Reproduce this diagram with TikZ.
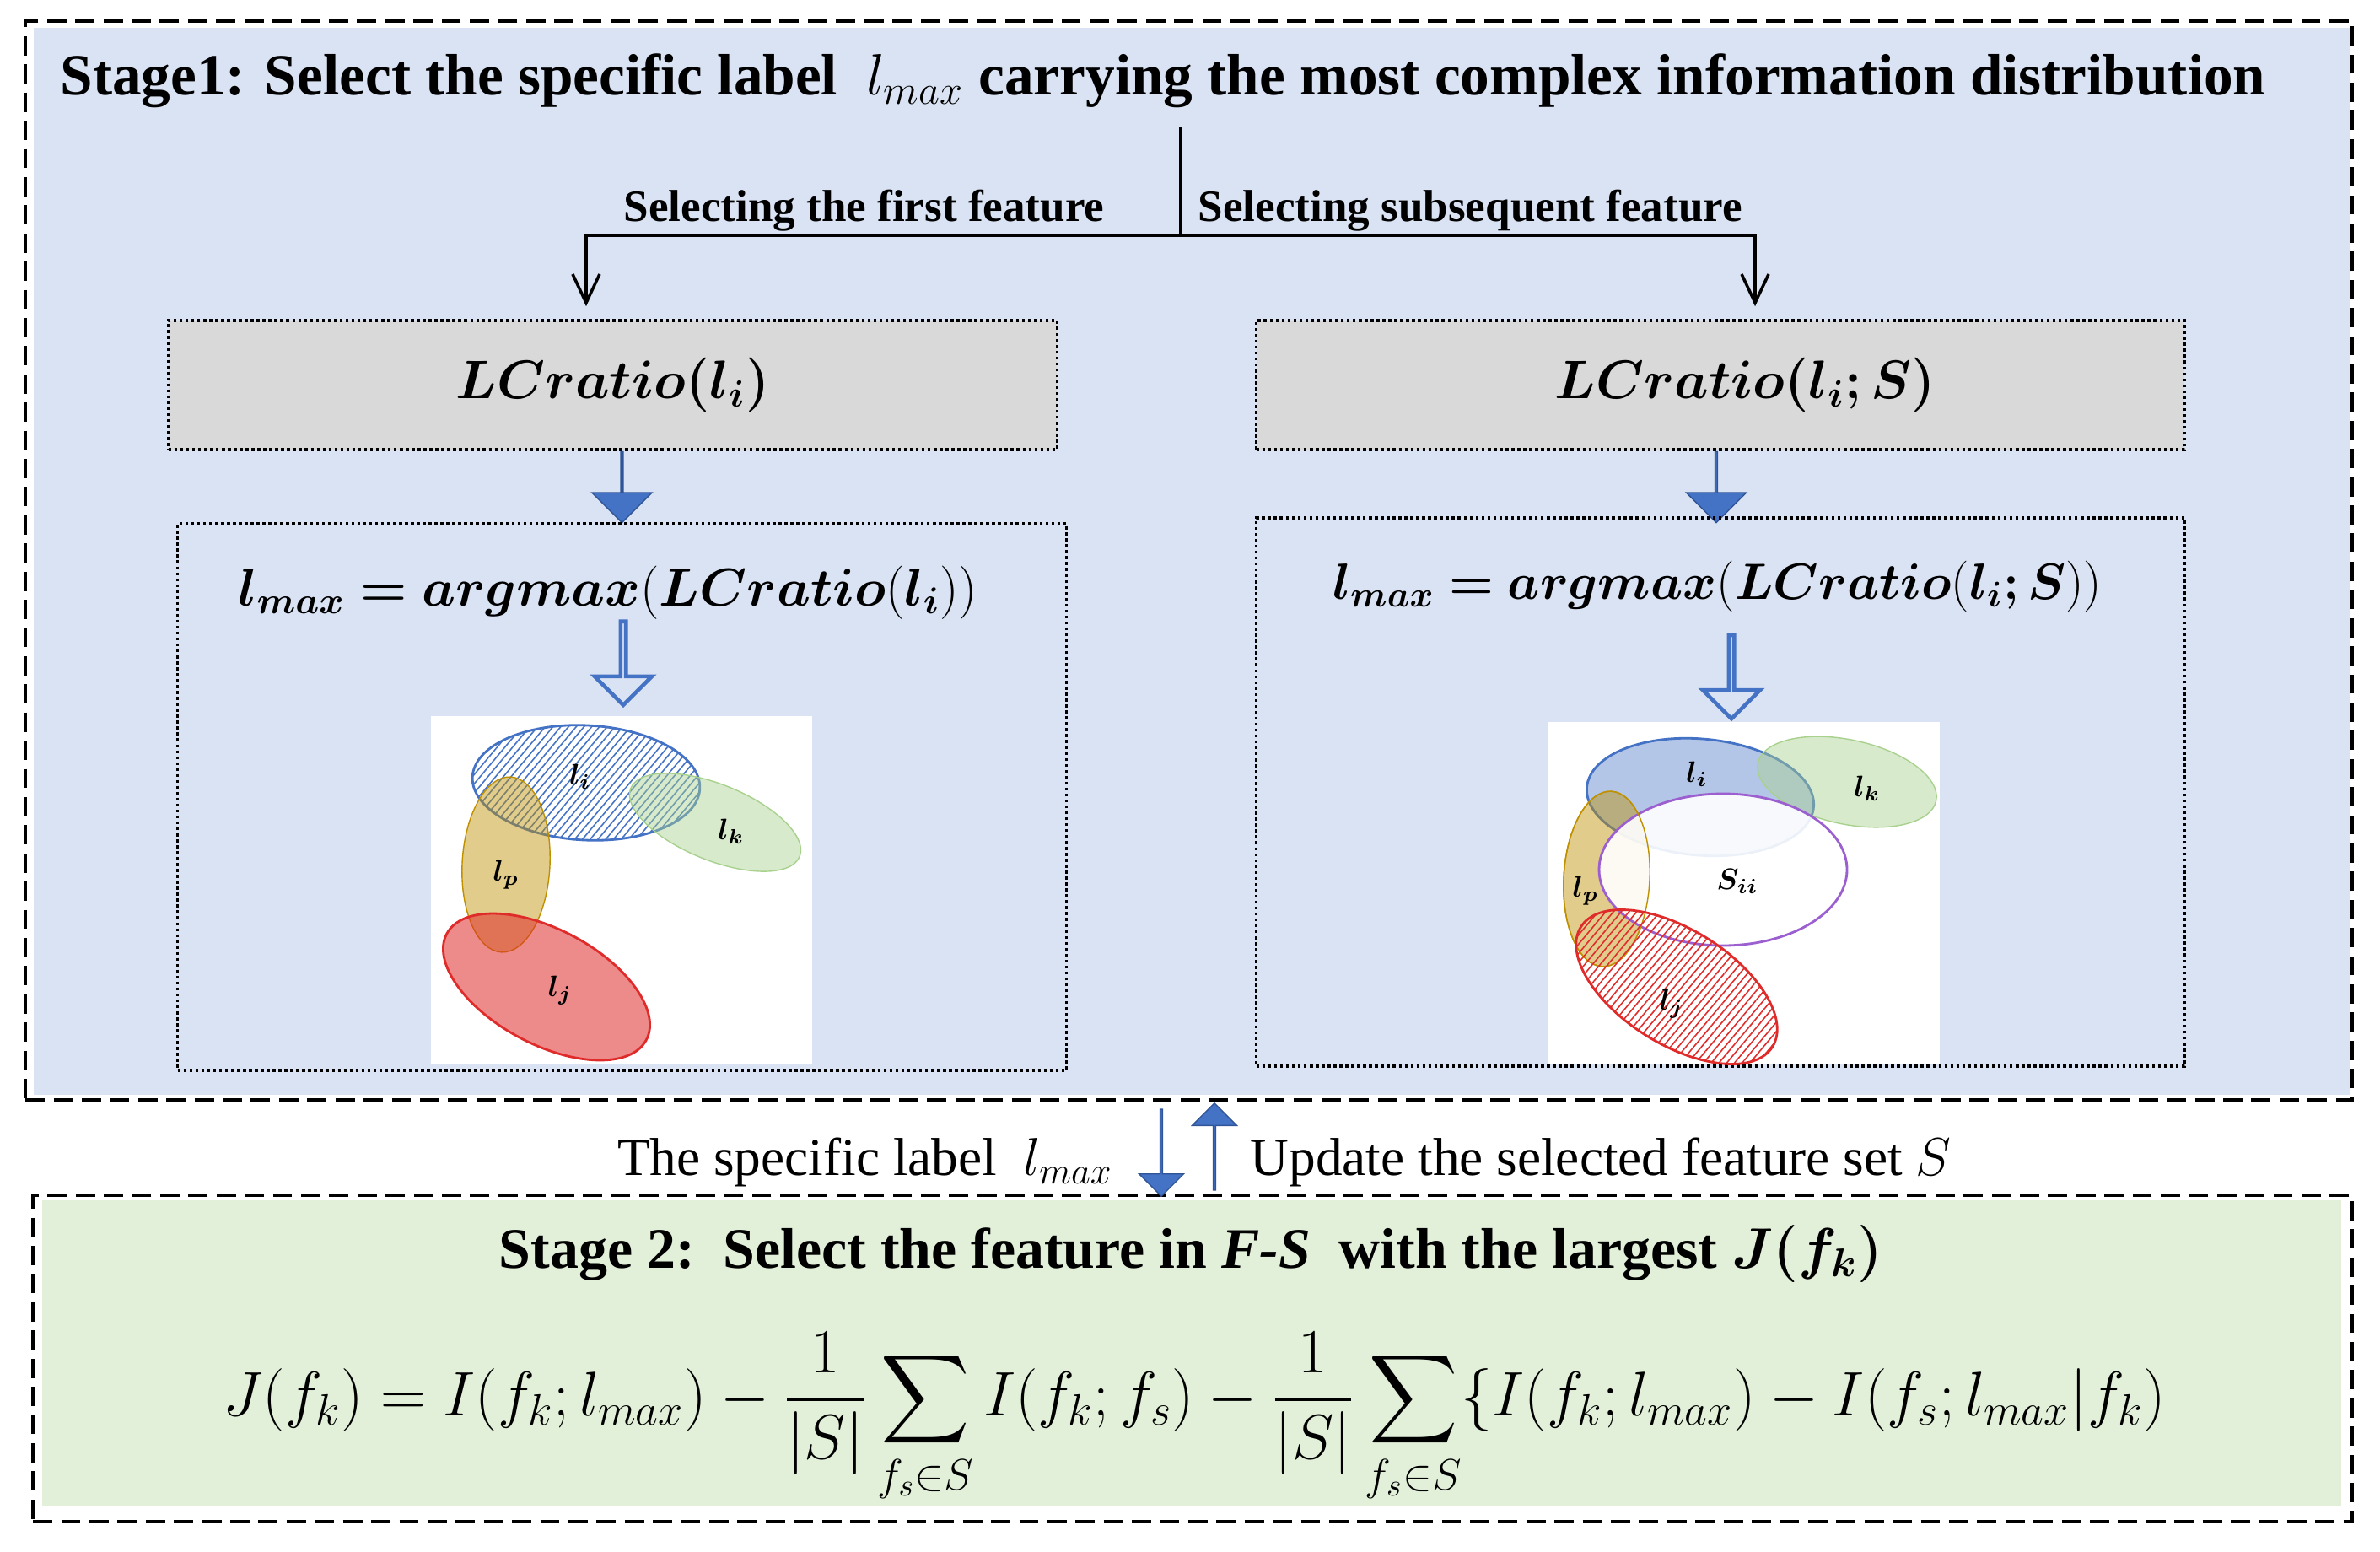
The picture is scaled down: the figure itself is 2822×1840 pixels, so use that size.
\RequirePackage{fix-cm}
\documentclass[tikz,border=0pt]{standalone}
\usepackage{fontspec}
\setmainfont{Liberation Serif}
\usepackage{amsmath}
\usepackage{bm}
\usepackage{xcolor}
\usetikzlibrary{shapes.arrows, arrows.meta, positioning, patterns.meta}
\definecolor{stageblue}{HTML}{DAE3F3}
\definecolor{stagegreen}{HTML}{E2F0D9}
\definecolor{boxgray}{HTML}{D9D9D9}
\definecolor{arrowblue}{HTML}{4472C4}
\definecolor{arrowedge}{HTML}{2F5597}
\definecolor{setblue}{HTML}{4472C4}
\definecolor{setgreen}{HTML}{A9D18E}
\definecolor{setgold}{HTML}{BF9000}
\definecolor{setred}{HTML}{E02B2B}
\definecolor{setpurple}{HTML}{9B5FCF}
\tikzstyle{stagebox}    = [rectangle, draw=black, line width=1.1pt, dash pattern=on 6.5pt off 3pt]
\tikzstyle{ratiobox}    = [rectangle, draw=black, fill=boxgray, line width=1pt, densely dotted,
                           minimum height=1.53cm, font=\fontsize{18.3}{22}\selectfont]
\tikzstyle{panel}       = [rectangle, draw=black, line width=1pt, densely dotted]
\tikzstyle{arrow}       = [-{Straight Barb[length=3.4mm, width=3.2mm]}, line width=1pt]
\tikzstyle{fatarrow}    = [single arrow, fill=arrowblue, draw=arrowedge, line width=0.4pt, inner sep=0pt,
                           single arrow head extend=0.18cm, minimum width=0.71cm, minimum height=0.84cm]
\tikzstyle{hollowarrow} = [single arrow, fill=stageblue, draw=arrowblue, line width=1.3pt, inner sep=0pt,
                           single arrow head extend=0.22cm, minimum width=0.68cm, minimum height=0.99cm]
\tikzstyle{linkarrow}   = [single arrow, fill=arrowblue, draw=arrowedge, line width=0.4pt, inner sep=0pt,
                           single arrow head extend=0.13cm, minimum width=0.53cm, minimum height=1.03cm]
\tikzstyle{heading}     = [inner sep=0pt, font=\fontsize{19.7}{23}\selectfont\bfseries]
\tikzstyle{branch}      = [inner sep=0pt, font=\fontsize{15.1}{18}\selectfont\bfseries]
\tikzstyle{formula}     = [inner sep=0pt, font=\fontsize{18}{22}\selectfont]
\tikzstyle{plain}       = [inner sep=0pt, font=\fontsize{18}{21}\selectfont]
\tikzstyle{setlabel}    = [inner sep=0pt, font=\fontsize{10}{12}\selectfont]
\tikzstyle{hatch}       = [pattern={Lines[angle=50, distance=2pt, line width=0.45pt]}]

\begin{document}
\begin{tikzpicture}[x=0.01cm, y=-0.01cm]
    \useasboundingbox (0,0) rectangle (2822,1840);

    % stage frames
    \fill[stageblue] (40,33) rectangle (2786,1298);
    \node (stage1) [stagebox, minimum width=27.57cm, minimum height=12.79cm] at (1409.5,664.5) {};
    \fill[stagegreen] (50,1423) rectangle (2776,1786);
    \node (stage2) [stagebox, minimum width=27.48cm, minimum height=3.87cm] at (1414,1610.5) {};

    % stage 1
    \node (title) [heading, anchor=base] at (1379,113)
        {Stage1: Select the specific label \ $l_{max}$ carrying the most complex information distribution};
    \coordinate (top) at (1400,150);
    \coordinate (split) at (1400,279);
    \node (firstlbl) [branch, anchor=base east] at (1310,263) {Selecting the first feature};
    \node (nextlbl) [branch, anchor=base west] at (1420,263) {Selecting subsequent feature};

    \node (ratioL) [ratiobox, minimum width=10.53cm] at (726.5,456.5) {$\bm{LCratio(l_i)}$};
    \node (ratioR) [ratiobox, minimum width=11cm] at (2040,456.5) {\hspace*{0.58cm}$\bm{LCratio(l_i{;}\,S)}$};

    \draw[line width=1pt] (top) -- (split);
    \draw[arrow] (split) -| ([xshift=-0.315cm, yshift=0.15cm]ratioL.north);
    \draw[arrow] (split) -| ([xshift=0.41cm, yshift=0.15cm]ratioR.north);

    \node (dnL) [fatarrow, shape border rotate=270, anchor=tail] at ([xshift=0.11cm]ratioL.south) {};
    \node (dnR) [fatarrow, shape border rotate=270, anchor=tail] at ([xshift=-0.05cm]ratioR.south) {};

    \node (panelL) [panel, minimum width=10.53cm, minimum height=6.48cm] at (737.5,945) {};
    \node (panelR) [panel, minimum width=11cm, minimum height=6.5cm] at (2040,939) {};

    \node (argL) [formula, anchor=base] at (721,718) {$\bm{l_{max} = argmax}(\bm{LCratio}(\bm{l_i}))$};
    \node (argR) [formula, font=\fontsize{17.2}{21}\selectfont, anchor=base] at (2036,710)
        {$\bm{l_{max} = argmax}(\bm{LCratio}(\bm{l_i{;}\,S}))$};

    \node (hollowL) [hollowarrow, shape border rotate=270, anchor=tail] at ([xshift=0.18cm]argL.south) {};
    \node (hollowR) [hollowarrow, shape border rotate=270, anchor=tail] at ([xshift=0.17cm, yshift=-0.25cm]argR.south) {};

    % left sets
    \node (vennL) [fill=white, inner sep=0pt, minimum width=4.52cm, minimum height=4.12cm] at (737,1055) {};
    \draw[setblue, line width=0.8pt, hatch, pattern color=setblue, rotate around={-3:(695,928)}]
        (695,928) ellipse [x radius=135, y radius=68];
    \filldraw[draw=setgreen, fill=setgreen, fill opacity=0.45, rotate around={-22:(848,975)}]
        (848,975) ellipse [x radius=108, y radius=45];
    \filldraw[draw=setgold, fill=setgold, fill opacity=0.45, rotate around={-3:(600,1025)}]
        (600,1025) ellipse [x radius=52, y radius=104];
    \filldraw[draw=setred, line width=0.8pt, fill=setred, fill opacity=0.55, rotate around={-28:(648,1170)}]
        (648,1170) ellipse [x radius=134, y radius=68];
    \node (liL) [setlabel] at (688,921) {$\bm{l_i}$};
    \node (lkL) [setlabel] at (867,986) {$\bm{l_k}$};
    \node (lpL) [setlabel] at (600,1037) {$\bm{l_p}$};
    \node (ljL) [setlabel] at (664,1174) {$\bm{l_j}$};

    % right sets
    \node (vennR) [fill=white, inner sep=0pt, minimum width=4.64cm, minimum height=4.06cm] at (2068,1059) {};
    \filldraw[draw=setblue, line width=0.8pt, fill=setblue, fill opacity=0.4, rotate around={-5:(2016,945)}]
        (2016,945) ellipse [x radius=135, y radius=69];
    \filldraw[draw=setgreen, fill=setgreen, fill opacity=0.45, rotate around={-12:(2190,927)}]
        (2190,927) ellipse [x radius=108, y radius=50];
    \filldraw[draw=setgold, fill=setgold, fill opacity=0.45, rotate around={-3:(1905,1042)}]
        (1905,1042) ellipse [x radius=51, y radius=104];
    \filldraw[draw=setpurple, line width=0.8pt, fill=white, fill opacity=0.9]
        (2043,1031) ellipse [x radius=147, y radius=90];
    \draw[setgold, rotate around={-3:(1905,1042)}] (1905,1042) ellipse [x radius=51, y radius=104];
    \draw[setred, line width=0.8pt, hatch, pattern color=setred, rotate around={-32:(1988,1170)}]
        (1988,1170) ellipse [x radius=134, y radius=68];
    \node (liR) [setlabel] at (2012,918) {$\bm{l_i}$};
    \node (lkR) [setlabel] at (2214,935) {$\bm{l_k}$};
    \node (lpR) [setlabel] at (1880,1056) {$\bm{l_p}$};
    \node (siiR) [setlabel] at (2060,1045) {$\bm{S_{ii}}$};
    \node (ljR) [setlabel] at (1982,1190) {$\bm{l_j}$};

    % link between the stages
    \node (dnS) [linkarrow, shape border rotate=270] at (1377,1366) {};
    \node (upS) [linkarrow, shape border rotate=90] at (1440,1360) {};
    \node (lmaxlbl) [plain, left=0.55cm of dnS, yshift=-0.12cm] {The specific label \ $l_{max}$};
    \node (updlbl) [plain, right=0.4cm of upS, yshift=-0.18cm] {Update the selected feature set $S$};

    % stage 2
    \node (title2) [heading, font=\fontsize{19.3}{23}\selectfont\bfseries, anchor=base] at (1412,1503)
        {Stage 2:\ \ Select the feature in \textit{F-S}\ \ with the largest $\bm{J(f_k)}$};
    \node (jfk) [formula, font=\fontsize{21.2}{25}\selectfont, anchor=base] at (1416,1678)
        {$\displaystyle J(f_k) = I(f_k;l_{max}) - \frac{1}{|S|}\sum_{f_s\in S} I(f_k;f_s) - \frac{1}{|S|}\sum_{f_s\in S}\{I(f_k;l_{max}) - I(f_s;l_{max}|f_k)$};
\end{tikzpicture}
\end{document}
